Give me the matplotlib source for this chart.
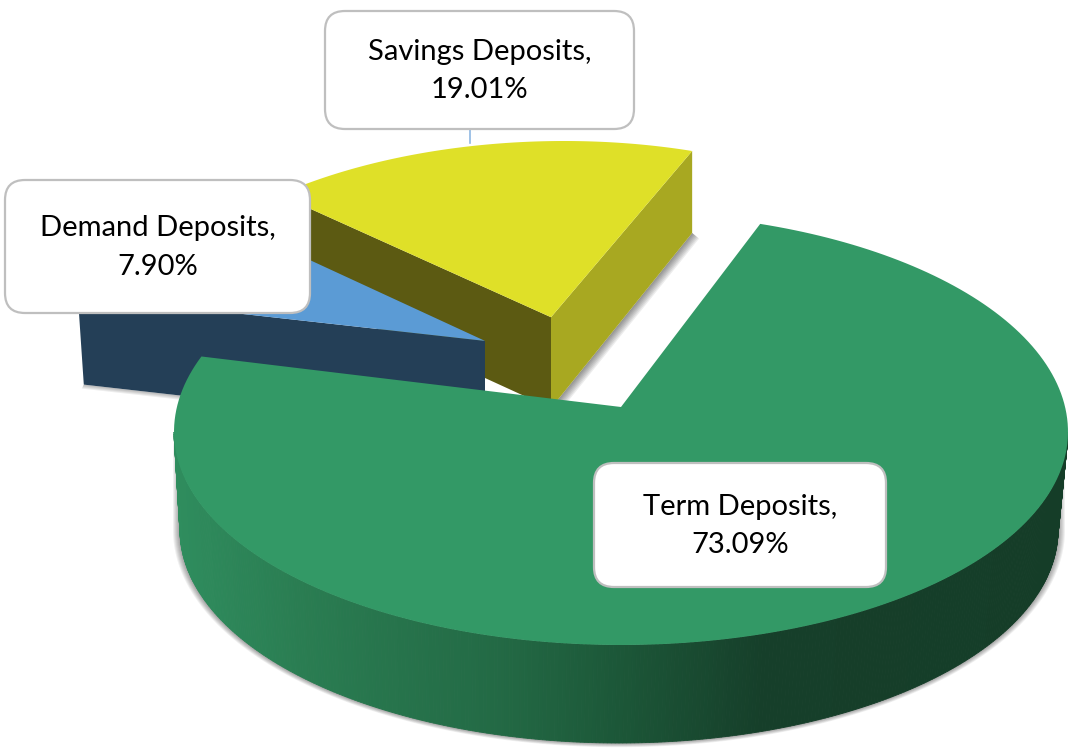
import numpy as np
import matplotlib
matplotlib.use('Agg')
import matplotlib.pyplot as plt
from matplotlib.patches import Polygon, FancyBboxPatch
from matplotlib.colors import LinearSegmentedColormap

# data
categories = ['Term Deposits', 'Demand Deposits', 'Savings Deposits']
shares = [73.09, 7.90, 19.01]

START = 69.5  # first slice starts here, runs clockwise


def rim_point(theta, k):
    # ray from the off-centre apex (0, k) to the unit circle
    dx, dy = np.cos(theta), np.sin(theta)
    b = k * dy
    t = -b + np.sqrt(b * b - (k * k - 1))
    return t * dx, k + t * dy


def top_outline(a0, a1, cx, cy, a, b, k, shear=0.0, b_up=None):
    # outline of the top face, with a small lean for the perspective
    if b_up is None:
        b_up = b
    thetas = np.radians(np.linspace(a0, a1, 200))
    pts = np.array([rim_point(th, k) for th in thetas])
    apex_y = cy - b * k
    ys = cy - np.where(pts[:, 1] > 0, b_up, b) * pts[:, 1]
    xs = cx + a * pts[:, 0] + shear * (apex_y - ys)
    return xs, ys


def soft_edge(p0, p1, dx, dy, steps, alpha, zorder):
    # stacked strips along an edge, reads as a blurred shadow
    for s in range(1, steps + 1):
        ax.add_patch(Polygon([p0, p1, (p1[0] + dx * s, p1[1] + dy * s), (p0[0] + dx * s, p0[1] + dy * s)],
                             fc='black', ec='none', alpha=alpha, zorder=zorder))


plt.rcParams['font.family'] = ['Lato', 'DejaVu Sans']
fig = plt.figure(figsize=(10.68, 7.49), dpi=100)
ax = fig.add_axes([0, 0, 1, 1])
ax.set_xlim(0, 1068)
ax.set_ylim(749, 0)
ax.axis('off')

# slice angles from the values
angles = 360.0 * np.array(shares) / sum(shares)
edges = START - np.concatenate([[0], np.cumsum(angles)])
term_a = (edges[0], edges[1])
demand_a = (edges[1], edges[2])
savings_a = (edges[2], edges[3])

# savings slice
cx, cy, a, b, k = 551, 339, 410, 198, 0.11
xs, ys = top_outline(savings_a[0], savings_a[1], cx, cy, a, b, k, shear=0.075)
ax_, ay_ = cx, cy - b * k
rx, ry = xs[-1], ys[-1]
lx, ly = xs[0], ys[0]
soft_edge((ax_, ay_ + 91), (rx, ry + 82), 1.0, 0.8, 7, 0.07, 1)
ax.add_patch(Polygon([(ax_, ay_), (rx, ry), (rx, ry + 82), (ax_, ay_ + 91)], fc='#a8a821', ec='none', zorder=2))
ax.add_patch(Polygon([(ax_, ay_), (lx, ly), (lx, ly + 89), (ax_, ay_ + 91)], fc='#5c5a12', ec='none', zorder=2))
ax.add_patch(Polygon(np.column_stack([np.r_[ax_, xs], np.r_[ay_, ys]]), fc='#dfe028', ec='none', zorder=3))

# demand slice
cx, cy, a, b, k = 485, 364, 450, 199, 0.116
xs, ys = top_outline(demand_a[0], demand_a[1], cx, cy, a, b, k, shear=0.34)
ax_, ay_ = cx, cy - b * k
lx, ly = xs[0], ys[0]
soft_edge((lx + 6, ly + 89), (ax_, ay_ + 89), -0.5, 1.0, 4, 0.07, 4)
ax.add_patch(Polygon([(ax_, ay_), (lx, ly), (lx + 6, ly + 89), (ax_, ay_ + 89)], fc='#243f57', ec='none', zorder=5))
ax.add_patch(Polygon(np.column_stack([np.r_[ax_, xs], np.r_[ay_, ys]]), fc='#5b9bd5', ec='none', zorder=6))

# term slice
cx, cy, a, b, k = 621, 432, 447, 213, 25 / 213
low_cx, low_cy, low_a, low_b = 619, 530, 439, 213
ts = np.radians(np.linspace(180, 360, 361))
top_x = cx + a * np.cos(ts)
top_y = cy - b * np.sin(ts)
low_x = low_cx + low_a * np.cos(ts)
low_y = low_cy - low_b * np.sin(ts)

# soft shadow under the rim
for off in range(1, 8):
    sx = low_cx + (low_a + off) * np.cos(ts)
    sy = low_cy - (low_b + off * 0.6) * np.sin(ts)
    ax.add_patch(Polygon(np.column_stack([np.r_[sx, sx[::-1]], np.r_[sy, top_y[::-1]]]),
                         fc='black', ec='none', alpha=0.06, zorder=7))

rim = LinearSegmentedColormap.from_list('rim', [(0.0, '#2f8d5e'), (0.14, '#2a7d52'), (0.36, '#236a45'),
                                                (0.50, '#1c5738'), (0.66, '#163f2a'), (1.0, '#153d28')])
for i in range(len(ts) - 1):
    col = rim(np.clip((0.5 * (low_x[i] + low_x[i + 1]) - 178) / (1060 - 178), 0, 1))
    ax.add_patch(Polygon([(top_x[i], top_y[i]), (top_x[i + 1], top_y[i + 1]),
                          (low_x[i + 1], low_y[i + 1]), (low_x[i], low_y[i])],
                         fc=col, ec=col, lw=0.6, zorder=8))

xs, ys = top_outline(term_a[0], term_a[1], cx, cy, a, b, k, b_up=219)
ax.add_patch(Polygon(np.column_stack([np.r_[cx, xs], np.r_[cy - b * k, ys]]), fc='#339966', ec='none', zorder=9))

# leader line of the savings label
ax.plot([470, 470], [129, 143], color='#8fb8e3', lw=1.2, zorder=4)

# labels
boxes = {'Savings Deposits': (325, 11, 634, 129),
         'Demand Deposits': (5, 180, 310, 313),
         'Term Deposits': (594, 463, 886, 587)}
for name, val in zip(categories, shares):
    x0, y0, x1, y1 = boxes[name]
    ax.add_patch(FancyBboxPatch((x0 + 20, y0 + 20), x1 - x0 - 40, y1 - y0 - 40,
                                boxstyle='round,pad=20,rounding_size=20', fc='white', ec='#bfbfbf', lw=1.6,
                                mutation_aspect=1, zorder=20))
    ax.text((x0 + x1) / 2, (y0 + y1) / 2 + 1, '%s,\n%.2f%%' % (name, val), ha='center', va='center',
            fontsize=21, color='black', linespacing=1.6, zorder=21)

fig.savefig('out.png', dpi=100)
